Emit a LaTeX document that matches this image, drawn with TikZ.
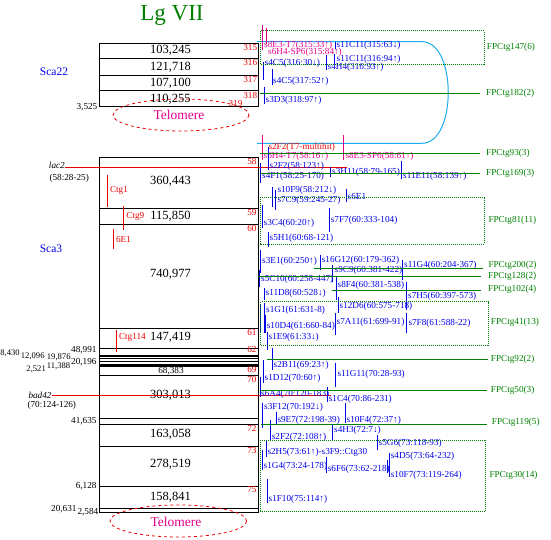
\documentclass[tikz,border=0pt]{standalone}
\usepackage{fontspec}
\setmainfont{Liberation Serif}
\usepackage{tikz}
\usetikzlibrary{positioning}
\definecolor{mapgreen}{RGB}{0,128,0}
\definecolor{mapblue}{RGB}{0,0,230}
\definecolor{mappink}{RGB}{230,0,140}
\definecolor{mapred}{RGB}{235,0,0}
\definecolor{mapcyan}{RGB}{30,170,240}
\tikzstyle{seg}  = [inner sep=0pt, font=\fontsize{12.5}{14}\selectfont]
\tikzstyle{tag}  = [anchor=east, inner sep=0pt, text=mapred]
\tikzstyle{size} = [inner sep=0pt]

\begin{document}
\begin{tikzpicture}[x=1pt, y=-1pt, font=\fontsize{9.2}{10}\selectfont,
  lb/.style={anchor=west, inner sep=0pt, text=mapblue},
  pk/.style={lb, text=mappink},
  fp/.style={anchor=west, inner sep=0pt, text=mapgreen},
  chr/.style={draw=black, line width=1pt},
  bar/.style={draw=mapblue, line width=1pt},
  pbar/.style={draw=mappink, line width=1pt},
  rbar/.style={draw=mapred, line width=1pt},
  fpline/.style={draw=mapgreen, line width=1pt},
  fpbox/.style={draw=mapgreen, line width=1pt, dash pattern=on 1pt off 1pt},
  telo/.style={draw=mapred, dashed, line width=0.8pt}]
\useasboundingbox (0,0) rectangle (551,540);
\node[text=mapgreen, font=\fontsize{23}{26}\selectfont] (title) at (172,15) {Lg VII};
\node[text=mapblue, font=\fontsize{11.5}{13}\selectfont] (sca22) at (54,72) {Sca22};
\node[text=mapblue, font=\fontsize{11.5}{13}\selectfont] (sca3) at (51,248.3) {Sca3};
\draw[chr] (99.3,43.3) rectangle (258.7,106.7);
\foreach \y in {58.3,75.3,90.3} \draw[chr] (99.3,\y) -- (258.7,\y);
\draw[chr] (99.3,157.3) rectangle (258.7,512);
\foreach \y in {208.3,224.3,328.3,348.3,358.7,361,375.3,418.3,424,446,486.3,508.7} \draw[chr] (99.3,\y) -- (258.7,\y);
\draw[draw=black, line width=2pt] (99.3,355.7) -- (258.7,355.7);
\draw[draw=black, line width=3pt] (99.3,365) -- (258.7,365);
\foreach \y/\t [count=\i] in {50.5/{103,245},67.3/{121,718},83/{107,100},99/{110,255},181.7/{360,443},216.7/{115,850},
  274.3/{740,977},337.7/{147,419},395/{303,013},434.3/{163,058},464/{278,519},497.3/{158,841}}
  \node[seg] (seg\i) at (170.5,\y) {\t};
\node[size] (seg13) at (171,370.7) {68,383};
\foreach \x/\y/\t [count=\i] in {257.3/47.3/315,257.3/62.7/316,257.3/80/317,257.3/95/318,242.7/104/319,
  256.7/161.7/58,256.7/212.3/59,256.7/228.7/60,256.7/332.7/61,256.7/349.3/62,256.7/369.3/69,256.7/379.3/70,
  256.7/428.3/72,256.7/450/73,256.7/489.3/75}
  \node[tag] (n\i) at (\x,\y) {\t};
\foreach \x/\y/\a/\t [count=\i] in {97.5/107/east/{3,525},96.7/350/east/{48,991},96.7/362/east/{20,196},
  96.7/420.7/east/{41,635},96.7/486/east/{6,128},76.7/509.3/east/{20,631},77.3/512/west/{2,584}}
  \node[size, anchor=\a] (k\i) at (\x,\y) {\t};
\foreach \x/\y/\a/\t [count=\i] in {20/353/east/{8,430},20.7/356/west/{12,096},46.7/357.5/west/{19,876},
  46.7/366/west/{11,388},46/369.5/east/{2,521}}
  \node[size, anchor=\a, font=\fontsize{8.6}{9}\selectfont] (m\i) at (\x,\y) {\t};
\draw[telo] (181,115) ellipse[x radius=68, y radius=16];
\node[text=mappink, font=\fontsize{13.5}{15}\selectfont] (tel1) at (179,115) {Telomere};
\draw[telo] (178.3,521) ellipse[x radius=68.3, y radius=16];
\node[text=mappink, font=\fontsize{13.5}{15}\selectfont] (tel2) at (176,521.5) {Telomere};
\node[size, anchor=east, font=\fontsize{9.2}{10}\itshape] (lac) at (65,165) {lac2};
\node[size, anchor=west] (lacpos) at (49.3,178.3) {(58:28-25)};
\node[size, anchor=east, font=\fontsize{9.2}{10}\itshape] (bad) at (51.7,395) {bad42};
\node[size, anchor=west] (badpos) at (27.3,405) {(70:124-126)};
\draw[rbar] (lac.east |- 0,167.3) -- (347.3,167.3);
\draw[rbar] (bad.east |- 0,395.3) -- (331,395.3);
\foreach \x/\a/\b/\y/\t [count=\i] in {107.3/175/206.7/190.7/Ctg1,123.7/206/230/216.7/Ctg9,113.3/229.3/249.3/239.3/6E1,116.3/330/351.7/337.7/Ctg114}
  {\draw[rbar] (\x,\a) -- (\x,\b); \node[tag, anchor=west] (c\i) at (\x+2.5,\y) {\t};}
\draw[mapcyan, line width=1pt] (257,41.7) -- (422,41.7) .. controls (457,41.7) and (457,143.3) .. (422,143.3) -- (257,143.3);
\foreach \x/\a/\b in {262/25/50,266.7/28/44,262/135/160,343.3/135/160} \draw[pbar] (\x,\a) -- (\x,\b);
\node[pk] (p1) at (264,45) {s8E3-T7(315:33↑)};
\node[pk] (p2) at (268,52.7) {s6H4-SP6(315:84↑)};
\node[lb, text=mapred] (p3) at (268.3,147.3) {s2F2(T7-multihit)};
\node[pk] (p4) at (263.5,156.7) {s6H4-T7(58:16↑)};
\node[pk] (p5) at (345.3,156.7) {s8E3-SP6(58:61↑)};
\foreach \x/\a/\b in {335/41.7/49.3,334.3/54/63.3,263.3/61.7/80,326.7/55/70,272/69.3/85,264.3/86.7/104,
  268/146.7/170,260.7/163.3/183.3,330.7/166.7/176.7,401.7/160.7/179.3,272.3/186.7/206.7,275.3/190/210,346/189.3/201.7,
  262/205/228.3,329.3/208.3/231.7,268.3/231.7/246.7,260.7/250/273.3,320/255/270,332.7/265/281.7,402.7/260/280,
  259.3/270/286.7,336/276.7/300,264.3/288.3/300,406/281.7/310,338.3/296.7/313.3,260.7/305/331.7,264/303.3/333.3,
  335/313.3/335,406.7/313.3/333.3,265/315/333.3,267.3/331.7/350,272.3/348.3/370,263.3/360/383.3,335.7/363.3/386.7,
  260/376.7/396.7,327.3/386.7/401.7,262.7/403.3/428.3,276/411.7/425,345/403.3/423.3,332.7/425/440,270.7/420/440,
  377.3/435/450,266/440/456.7,262/450/470,326.7/456.7/473.3,389.3/453.3/476.7,387.3/460/473,267.3/479.3/503.3}
  \draw[bar] (\x,\a) -- (\x,\b);
\foreach \x/\y/\t [count=\i] in {336.5/45/s11C11(315:63↓),336.5/59/s11C11(316:94↑),264.5/63.3/s4C5(316:30↓),
  327.5/67.7/s4H4(316:93↑),273/81.7/s4C5(317:52↑),265.5/100/s3D3(318:97↑),269.5/166.7/s2F2(58:123↑),
  262/176.7/s4F1(58:25-170),332/172.3/s3H11(58:79-165),403/176.7/s11E11(58:139↑),277.3/190.7/s10F9(58:212↓),
  277.3/200/s7C9(59:245-27),347.5/196.7/s6E1,263.5/223.3/s3C4(60:20↑),330.7/220/s7F7(60:333-104),
  269.5/238.3/s5H1(60:68-121),262/261.2/s3E1(60:250↑),321.7/260.5/s16G12(60:179-362),334.5/270.5/s9C9(60:381-422),
  404/265/s11G4(60:204-367),261/279.3/s5C10(60:258-447),337.5/285/s8F4(60:381-538),265.5/293.3/s11D8(60:528↓),
  408/296.7/s7H5(60:397-573),339.5/306.7/s12D6(60:575-718),266/310/s1G1(61:631-8),336.5/322.7/s7A11(61:699-91),
  408.3/323.3/s7F8(61:588-22),266.7/326/s10D4(61:660-84),268.5/337.3/s1E9(61:33↓),273.5/365.7/s2B11(69:23↑),
  264.5/378.3/s1D12(70:60↑),337.3/374.3/s11G11(70:28-93),261/394/s6A4(70:120-183),328.7/399/s1C4(70:86-231),
  264/407.3/s3F12(70:192↓),277.3/420/s9E7(72:198-39),346.5/420/s10F4(72:37↑),334/430/s4H3(72:7↓),
  271.7/437.3/s2F2(72:108↑),378.5/443.3/s5G6(73:118-93),267.3/452.7/s2H5(73:61↑)-s3F9::Ctg30,263.5/466.7/s1G4(73:24-178),
  327.7/469.3/s6F6(73:62-218),390.7/456.7/s4D5(73:64-232),390.7/475/s10F7(73:119-264),268.5/499.3/s1F10(75:114↑)}
  \node[lb] (s\i) at (\x,\y) {\t};
\foreach \y/\a/\b/\u/\v/\t [count=\i] in {93.3/260/480/486/93.3/FPCtg182(2),153.3/260/480/486/153.3/FPCtg93(3),
  173.3/260/480/486/173.3/FPCtg169(3),268.3/314/483/488.3/265.7/FPCtg200(2),276/258.3/480.7/488/276/FPCtg128(2),
  290/331.7/480.7/488/289.3/FPCtg102(4),359/266.7/488.3/490.7/359/FPCtg92(2),390.7/260/486.7/490.7/390.7/FPCtg50(3),
  424/260.7/486.7/491.7/422.7/FPCtg119(5)}
  {\draw[fpline] (\a,\y) -- (\b,\y); \node[fp] (fp\i) at (\u,\v) {\t};}
\foreach \x/\y/\X/\Y/\u/\v/\t [count=\i] in {260.7/31/484.3/65/486.7/47.7/FPCtg147(6),260/197.3/484.7/244/488.3/220/FPCtg81(11),
  260.7/301.7/488.3/345/490.7/322.7/FPCtg41(13),260.7/440/485.7/511/489.3/475/FPCtg30(14)}
  {\draw[fpbox] (\x,\y) rectangle (\X,\Y); \node[fp] (box\i) at (\u,\v) {\t};}
\end{tikzpicture}
\end{document}
